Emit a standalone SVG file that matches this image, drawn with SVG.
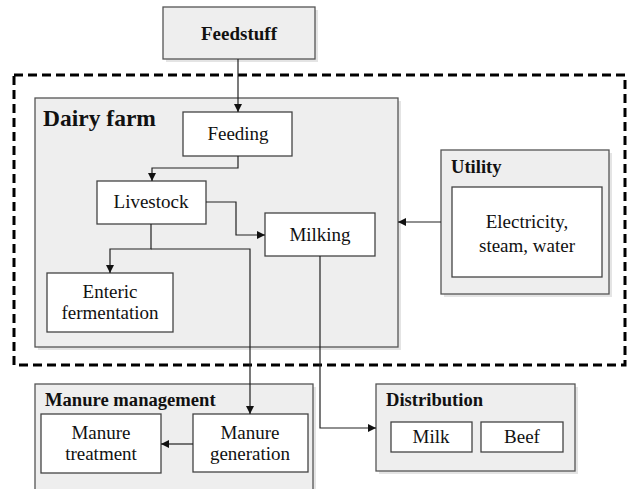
<svg xmlns="http://www.w3.org/2000/svg" width="630" height="489" viewBox="0 0 630 489">
  <defs>
    <marker id="arrow" viewBox="0 0 10 10" refX="10" refY="5" markerWidth="8" markerHeight="8" markerUnits="userSpaceOnUse" orient="auto">
      <path d="M0,0 L10,5 L0,10 z" fill="#111"/>
    </marker>
  </defs>
  <style>
    .panel { fill: #eeeeee; stroke: #555; stroke-width: 1.3; }
    .shadow { fill: #e4e4e4; stroke: none; }
    .box { fill: #ffffff; stroke: #444; stroke-width: 1.3; }
    text { font-family: 'Liberation Serif', 'Times New Roman', serif; fill: #111; }
    .t { font-size: 19px; text-anchor: middle; }
    .h { font-size: 18.6px; font-weight: bold; }
    .title { font-size: 23.5px; }
    .center { text-anchor: middle; font-size: 19px; }
    .link { fill: none; stroke: #222; stroke-width: 1.2; marker-end: url(#arrow); }
    .boundary { fill: none; stroke: #000; stroke-width: 3; stroke-dasharray: 9 5; }
  </style>
  <rect width="630" height="489" fill="#ffffff"/>

  <!-- system boundary -->
  <rect class="boundary" x="14" y="75" width="611" height="290"/>

  <g id="feedstuff">
    <rect class="shadow" x="166" y="10" width="152" height="52"/>
    <rect class="panel" x="163" y="7" width="152" height="52"/>
    <text class="h center" x="239" y="40">Feedstuff</text>
  </g>

  <g id="dairy-farm">
    <rect class="shadow" x="38" y="101" width="363" height="249"/>
    <rect class="panel" x="35" y="98" width="363" height="249"/>
    <text class="h title" x="43" y="126">Dairy farm</text>
  </g>

  <g id="feeding">
    <rect class="box" x="183" y="112" width="109" height="44"/>
    <text class="t" x="238" y="140">Feeding</text>
  </g>

  <g id="livestock">
    <rect class="box" x="97" y="181" width="109" height="43"/>
    <text class="t" x="151" y="208">Livestock</text>
  </g>

  <g id="milking">
    <rect class="box" x="265" y="213" width="110" height="43"/>
    <text class="t" x="320" y="241">Milking</text>
  </g>

  <g id="enteric-fermentation">
    <rect class="box" x="47" y="273" width="126" height="59"/>
    <text class="t" x="110" y="298">Enteric</text>
    <text class="t" x="110" y="319">fermentation</text>
  </g>

  <g id="utility">
    <rect class="shadow" x="444" y="153" width="168" height="144"/>
    <rect class="panel" x="441" y="150" width="168" height="144"/>
    <text class="h" x="451" y="173">Utility</text>
    <rect class="box" x="452" y="187" width="150" height="90"/>
    <text class="t" x="527" y="228">Electricity,</text>
    <text class="t" x="527" y="252">steam, water</text>
  </g>

  <g id="manure-management">
    <rect class="shadow" x="38" y="387" width="278" height="110"/>
    <rect class="panel" x="35" y="384" width="278" height="110"/>
    <text class="h" x="45" y="406">Manure management</text>
  </g>

  <g id="manure-treatment">
    <rect class="box" x="41" y="414" width="120" height="59"/>
    <text class="t" x="101" y="439">Manure</text>
    <text class="t" x="101" y="460">treatment</text>
  </g>

  <g id="manure-generation">
    <rect class="box" x="193" y="414" width="115" height="58"/>
    <text class="t" x="250" y="439">Manure</text>
    <text class="t" x="250" y="460">generation</text>
  </g>

  <g id="distribution">
    <rect class="shadow" x="379" y="387" width="199" height="87"/>
    <rect class="panel" x="376" y="384" width="199" height="87"/>
    <text class="h" x="386" y="406">Distribution</text>
    <rect class="box" x="391" y="422" width="81" height="30"/>
    <text class="t" x="431" y="443">Milk</text>
    <rect class="box" x="481" y="422" width="82" height="30"/>
    <text class="t" x="522" y="443">Beef</text>
  </g>

  <g id="connectors">
    <path class="link" d="M238,59 V112"/>
    <path class="link" d="M238,156 V168 H152 V181"/>
    <path class="link" d="M206,202 H236 V235 H265"/>
    <path class="link" d="M441,222 H398"/>
    <path class="link" d="M151,224 V249 H110 V273"/>
    <path class="link" d="M151,249 H250 V414"/>
    <path class="link" d="M193,444 H161"/>
    <path class="link" d="M320,256 V428 H376"/>
  </g>
</svg>
